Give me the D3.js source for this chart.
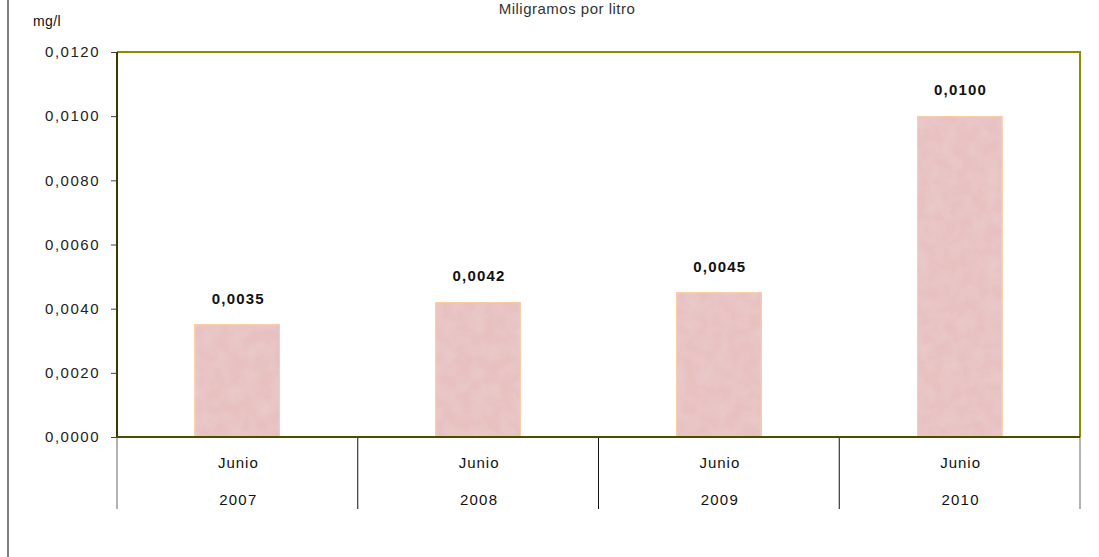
<!DOCTYPE html>
<head>
	<meta charset="UTF-8">
	<script src="https://d3js.org/d3.v7.min.js"></script>
<style>
	body{ margin: 0; background-color: white; }
	svg{ display: block; }
	text{ font-family: 'Liberation Sans', Arial, sans-serif; }
</style>
</head>
<body>
	<svg width=1099 height=557></svg>
</body>
<script>
	// Chart data
	var months = ["Junio", "Junio", "Junio", "Junio"];
	var years = ["2007", "2008", "2009", "2010"];
	var values = [0.0035, 0.0042, 0.0045, 0.0100];
	var yTicks = [0, 0.002, 0.004, 0.006, 0.008, 0.010, 0.012];

	var svg = d3.select("svg");
	var plotLeft = 117, plotRight = 1080, plotTop = 52, plotBottom = 437;

	// Spanish style number: 0,0035
	var fmt = function(v){ return d3.format(".4f")(v).replace(".", ","); };

	var x = d3.scaleBand().domain(d3.range(values.length)).range([plotLeft, plotRight]);
	var y = d3.scaleLinear().domain([0, 0.012]).range([plotBottom, plotTop]);

	// Mottled fill for the bars
	var defs = svg.append("defs");
	var filt = defs.append("filter").attr("id", "mottle").attr("x", 0).attr("y", 0).attr("width", 1).attr("height", 1);
	filt.append("feTurbulence").attr("type", "fractalNoise").attr("baseFrequency", 0.07).attr("numOctaves", 3).attr("seed", 4).attr("result", "noise");
	filt.append("feColorMatrix").attr("in", "noise").attr("type", "matrix")
		.attr("values", "0 0 0 0 0.82  0 0 0 0 0.64  0 0 0 0 0.64  0 0 0 0.9 -0.25").attr("result", "spots");
	filt.append("feComposite").attr("in", "spots").attr("in2", "SourceGraphic").attr("operator", "atop");

	// Left outer border of the chart frame
	svg.append("line").attr("x1", 8).attr("x2", 8).attr("y1", 0).attr("y2", 557)
		.attr("stroke", "#555").attr("stroke-width", 1.5);

	// Title (sits right at the top edge)
	svg.append("text").attr("x", 567).attr("y", 14).attr("text-anchor", "middle")
		.attr("font-size", "15px").attr("letter-spacing", "0.5px").attr("fill", "#333").text("Miligramos por litro");

	svg.append("text").attr("x", 33).attr("y", 26)
		.attr("font-size", "14px").attr("letter-spacing", "0.4px").attr("fill", "#111").text("mg/l");

	// Plot frame top and right
	svg.append("path").attr("d", "M" + plotLeft + "," + plotTop + "H" + plotRight + "V" + plotBottom)
		.attr("fill", "none").attr("stroke", "#8c8c00").attr("stroke-width", 2);

	// Bars
	var bw = x.bandwidth() * 0.353;
	svg.append("g").selectAll("rect").data(values).enter()
		.append("rect")
		.attr("x", function(d, i){ return x(i) + (x.bandwidth() - bw) / 2; })
		.attr("y", function(d){ return y(d); })
		.attr("width", bw)
		.attr("height", function(d){ return y(0) - y(d); })
		.attr("fill", "#e8c0c0")
		.attr("stroke", "#ffcc99")
		.attr("stroke-width", 1.5)
		.attr("filter", "url(#mottle)");

	// Value labels
	svg.append("g").selectAll("text").data(values).enter()
		.append("text")
		.attr("x", function(d, i){ return x(i) + x.bandwidth() / 2 + 1; })
		.attr("y", function(d){ return y(d) - 21; })
		.attr("text-anchor", "middle")
		.attr("font-size", "15px").attr("font-weight", "bold").attr("letter-spacing", "1.2px").attr("fill", "#111")
		.text(fmt);

	// Y axis
	var yAxis = svg.append("g").attr("transform", "translate(" + plotLeft + ",0)")
		.call(d3.axisLeft(y).tickValues(yTicks).tickFormat(fmt).tickSize(6).tickPadding(11));
	yAxis.select(".domain").remove();
	yAxis.selectAll("line").attr("stroke", "#444");
	yAxis.selectAll("text").attr("font-size", "15px").attr("fill", "#222").attr("letter-spacing", "1.5px")
		.attr("font-family", "'Liberation Sans', Arial, sans-serif");
	svg.append("line").attr("x1", plotLeft).attr("x2", plotLeft).attr("y1", plotTop).attr("y2", plotBottom)
		.attr("stroke", "#3a3a00").attr("stroke-width", 2);

	// Category divider lines below the axis
	svg.append("g").selectAll("line").data(d3.range(values.length + 1)).enter()
		.append("line")
		.attr("x1", function(i){ return i < values.length ? x(i) : plotRight; })
		.attr("x2", function(i){ return i < values.length ? x(i) : plotRight; })
		.attr("y1", plotBottom).attr("y2", 509)
		.attr("stroke", function(i){ return (i == 0 || i == values.length) ? "#666" : "#111"; })
		.attr("stroke-width", 1);

	// Bottom axis line
	svg.append("line").attr("x1", plotLeft).attr("x2", plotRight).attr("y1", plotBottom).attr("y2", plotBottom)
		.attr("stroke", "#4d4d00").attr("stroke-width", 2);

	// Category labels: month row and year row
	svg.append("g").selectAll("text").data(months).enter()
		.append("text")
		.attr("x", function(d, i){ return x(i) + x.bandwidth() / 2 + 1; })
		.attr("y", 468).attr("text-anchor", "middle")
		.attr("font-size", "15px").attr("letter-spacing", "1px").attr("fill", "#111").text(function(d){ return d; });
	svg.append("g").selectAll("text").data(years).enter()
		.append("text")
		.attr("x", function(d, i){ return x(i) + x.bandwidth() / 2 + 1; })
		.attr("y", 505).attr("text-anchor", "middle")
		.attr("font-size", "15px").attr("letter-spacing", "1.2px").attr("fill", "#111").text(function(d){ return d; });
</script>
